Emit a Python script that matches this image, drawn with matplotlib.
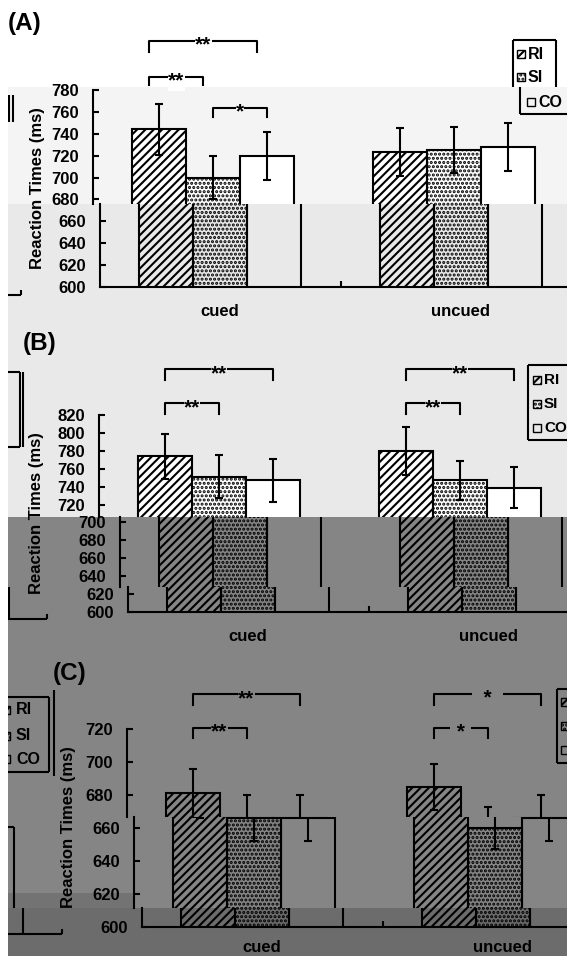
import numpy as np
import matplotlib
matplotlib.use('Agg')
import matplotlib.pyplot as plt
from matplotlib.patches import Rectangle

plt.rcParams['font.family'] = ['Liberation Sans', 'DejaVu Sans']
plt.rcParams['font.weight'] = 'bold'
plt.rcParams['hatch.linewidth'] = 1.5

W, H = 567, 956

# ---------------- data ----------------
conditions = ['cued', 'uncued']
groups = ['RI', 'SI', 'CO']
hatches = ['////', '....', '']

a_ri = [744, 723]; a_si = [700, 725]; a_co = [720, 728]
a_ri_err = [23, 22]; a_si_err = [20, 21]; a_co_err = [22, 22]

b_ri = [774, 780]; b_si = [751, 747]; b_co = [747, 739]
b_ri_err = [25, 27]; b_si_err = [24, 22]; b_co_err = [24, 23]

c_ri = [681, 685]; c_si = [666, 660]; c_co = [666, 666]
c_ri_err = [15, 14]; c_si_err = [14, 13]; c_co_err = [14, 14]

# significance brackets: (condition, bar i, bar j, top value, leg value, label, x shift)
a_sig = [(0, 0, 2, 825, 815, '**', -0.04), (0, 0, 1, 792, 785, '**', -0.04),
         (0, 1, 2, 764, 755, '*', 0.0)]
b_sig = [(0, 0, 2, 871, 859, '**', 0.0), (0, 0, 1, 833, 821, '**', 0.0),
         (1, 0, 2, 871, 859, '**', 0.0), (1, 0, 1, 833, 821, '**', 0.0)]
c_sig = [(0, 0, 2, 741, 734.5, '**', 0.0), (0, 0, 1, 720.6, 714.5, '**', 0.0),
         (1, 0, 2, 741, 734.5, '  *  ', 0.0), (1, 0, 1, 720.6, 714.5, ' * ', 0.0)]

# ---------------- figure ----------------
fig = plt.figure(figsize=(W / 100, H / 100), dpi=100)

bg = fig.add_axes([0, 0, 1, 1], zorder=0)
bg.set_xlim(0, W)
bg.set_ylim(H, 0)
bg.axis('off')

bands = [(0, 87, '#ffffff'), (87, 204, '#f4f4f4'), (204, 517, '#e9e9e9'),
         (517, 908, '#858585'), (908, H, '#6c6c6c')]

def band_colour(y):
    for y0, y1, c in bands:
        if y0 <= y < y1:
            return c
    return '#ebebeb'

def rect(x0, y0, x1, y1, c):
    bg.add_patch(Rectangle((x0, y0), x1 - x0, y1 - y0, facecolor=c, edgecolor='none'))

rect(0, 0, W, H, '#ebebeb')
for y0, y1, c in bands:
    rect(8, y0, W, y1, c)
rect(8, 893, 135, 908, '#737373')

def line(xs, ys):
    bg.plot(xs, ys, color='k', lw=1.5, solid_capstyle='butt')

# small remnants at the left edge
line([9, 9], [95, 122]); line([13, 13], [95, 122])
line([8, 21], [295, 295]); line([21, 21], [290, 295])
line([8, 20], [372, 372]); line([8, 20], [447, 447]); line([20, 20], [372, 447]); line([22.5, 22.5], [372, 447])
line([8.5, 8.5], [587, 619]); line([8, 47], [619, 619]); line([47, 47], [614, 619])
line([8, 14], [827, 827]); line([14, 14], [827, 908])
line([22.5, 22.5], [908, 934]); line([8, 62], [934, 934]); line([62, 62], [929, 934])

def legend_rows(sq_x, txt_x, rows, labels=True, fs=11.5):
    for yy, lab, h in zip(rows, groups, ['////', '....', '']):
        bg.add_patch(Rectangle((sq_x, yy - 4), 8, 8, facecolor='none', edgecolor='k',
                               lw=1.0, hatch=h))
        if labels:
            bg.text(txt_x, yy, lab, va='center', ha='left', fontsize=fs, fontweight='bold')

# legend A
line([513, 513], [40, 87]); line([513, 556], [40, 40]); line([556, 556], [40, 87])
line([520, 520], [87, 114]); line([520, 567], [114, 114])
legend_rows(517, 528, [54, 77])
bg.add_patch(Rectangle((527, 98), 8, 8, facecolor='none', edgecolor='k', lw=1.0))
bg.text(538, 102, 'CO', va='center', ha='left', fontsize=11.5, fontweight='bold')
# legend B
line([528, 528], [365, 440]); line([528, 567], [365, 365]); line([528, 567], [440, 440])
legend_rows(533, 544, [380, 404, 428], fs=11)
# legend C (left, cut)
line([0, 49], [697, 697]); line([0, 49], [772, 772]); line([49, 49], [697, 772]); line([53.5, 53.5], [690, 776])
legend_rows(2, 16, [710, 736, 759])
# legend C (right, cut)
line([557, 557], [689, 763]); line([557, 567], [689, 689]); line([557, 567], [763, 763])
legend_rows(561, 575, [702, 726, 750], labels=False)

# ---------------- panels ----------------
bw = 0.224
UNIT = 241.0   # pixels per category


def panel(ri, si, co, ri_e, si_e, co_e, vmin, vmax, y_top, y_bot, strips, faces,
          sig, ylab_x, ylab_y, xpad):
    scale = (vmax - vmin) / (y_bot - y_top)
    series = [(ri, ri_e, hatches[0]), (si, si_e, hatches[1]), (co, co_e, hatches[2])]
    ticks = np.arange(vmin, vmax + 1, 20)
    for n, (L, s0, s1) in enumerate(strips):
        last = n == len(strips) - 1
        v_hi = vmax - (s0 - y_top) * scale
        v_lo = vmax - (s1 - y_top) * scale
        ax = fig.add_axes([L / W, 1 - s1 / H, (W - L) / W, (s1 - s0) / H], zorder=2 + n)
        ax.patch.set_visible(False)
        ax.set_xlim(-120 / UNIT, (W - L - 120) / UNIT)
        ax.set_ylim(v_lo, v_hi)
        for k, (vals, errs, h) in enumerate(series):
            x = np.arange(len(conditions)) + (k - 1) * bw
            ax.bar(x, vals, bw, color=faces[n], edgecolor='k', linewidth=1.5, hatch=h)
            ax.errorbar(x, vals, yerr=errs, fmt='none', ecolor='k', elinewidth=1.5,
                        capsize=3.2, capthick=1.5)
        for sp in ['top', 'right']:
            ax.spines[sp].set_visible(False)
        ax.spines['left'].set_linewidth(1.5)
        ax.spines['bottom'].set_linewidth(1.5)
        tk = [t for t in ticks if v_lo - 1e-6 <= t <= v_hi + 1e-6]
        ax.set_yticks(tk)
        ax.set_yticklabels([str(int(t)) for t in tk], fontsize=12, fontweight='bold')
        ax.tick_params(axis='y', direction='in', length=4, width=1.5, pad=10)
        if last:
            ax.set_xticks(range(len(conditions)))
            ax.set_xticklabels(conditions, fontsize=12, fontweight='bold')
            ax.tick_params(axis='x', length=0, pad=xpad)
            ax.set_xticks([0.5], minor=True)
            ax.tick_params(axis='x', which='minor', direction='in', length=4, width=1.5)
        else:
            ax.spines['bottom'].set_visible(False)
            ax.set_xticks([])
        if n == 0:
            for (c, i, j, top, leg, lab, dx) in sig:
                x0 = c + (i - 1) * bw + dx
                x1 = c + (j - 1) * bw + dx
                ax.plot([x0, x0, x1, x1], [leg, top, top, leg], color='k', lw=1.5,
                        clip_on=False)
                y_px = y_top + (vmax - top) / scale
                ax.annotate(lab, ((x0 + x1) / 2, top), xytext=(0, -3),
                            textcoords='offset points', ha='center', va='center',
                            fontsize=15, fontweight='bold', annotation_clip=False,
                            bbox=dict(facecolor=band_colour(y_px), edgecolor='none',
                                      pad=0.2))
    fig.text(ylab_x / W, 1 - ylab_y / H, 'Reaction Times (ms)', rotation=90,
             ha='center', va='center', fontsize=12, fontweight='bold')


panel(a_ri, a_si, a_co, a_ri_err, a_si_err, a_co_err, 600, 780, 90, 287,
      [(93, 90, 204), (100, 204, 287)], ['white', 'none'], a_sig, 38, 188, 12)
panel(b_ri, b_si, b_co, b_ri_err, b_si_err, b_co_err, 600, 820, 415, 612,
      [(99, 415, 517), (120, 517, 587), (128, 587, 612)], ['white', 'none', 'none'],
      b_sig, 37, 513, 12)
panel(c_ri, c_si, c_co, c_ri_err, c_si_err, c_co_err, 600, 720, 729, 927,
      [(126.5, 729, 817), (134, 817, 908), (142, 908, 927)], ['none', 'none', 'none'],
      c_sig, 69, 827, 9)

fig.text(8 / W, 1 - 12 / H, '(A)', ha='left', va='top', fontsize=17.5, fontweight='bold')
fig.text(23 / W, 1 - 332 / H, '(B)', ha='left', va='top', fontsize=17.5, fontweight='bold')
fig.text(53 / W, 1 - 662 / H, '(C)', ha='left', va='top', fontsize=17.5, fontweight='bold')

fig.add_artist(Rectangle((0, 0), 8 / W, 1, transform=fig.transFigure, facecolor='white',
                         edgecolor='none', zorder=100))

fig.savefig('out.png', dpi=100)
